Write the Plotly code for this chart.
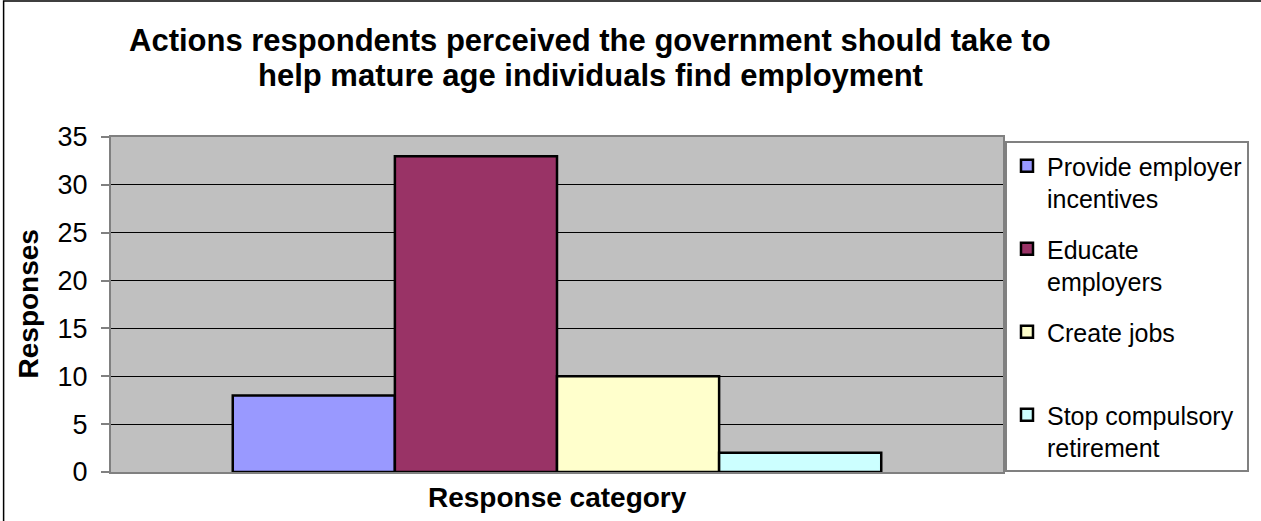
import plotly.graph_objects as go

# Survey responses: one group of four bars
category = ["Response category"]
series_names = [
    "Provide employer<br>incentives",
    "Educate<br>employers",
    "Create jobs<br>&nbsp;",
    "Stop compulsory<br>retirement",
]
series_values = [8, 33, 10, 2]
series_colors = ["#9999FF", "#993366", "#FFFFCC", "#CCFFFF"]

title_lines = [
    "Actions respondents perceived the government should take to",
    "help mature age individuals find employment",
]
y_ticks = [0, 5, 10, 15, 20, 25, 30, 35]

W, H = 1261, 521
L, R, T, B = 111, 1008, 137, 472  # plot area in pixels


def px_x(p):
    return (p - L) / (R - L)


def px_y(p):
    return (B - p) / (B - T)


fig = go.Figure()
for i, (name, val, col) in enumerate(zip(series_names, series_values, series_colors)):
    fig.add_trace(go.Bar(
        x=[0], y=[val], name=name,
        marker=dict(color=col, line=dict(color="black", width=2.5)),
        legendgroup=f"g{i}",
        hoverinfo="y",
    ))

font = "Liberation Sans, Arial, sans-serif"

annotations = [
    dict(text=f"<b>{title_lines[0]}</b>", x=px_x(593), y=px_y(40),
         xref="paper", yref="paper", xanchor="center", yanchor="middle",
         showarrow=False, font=dict(size=31, color="black", family=font)),
    dict(text=f"<b>{title_lines[1]}</b>", x=px_x(593), y=px_y(75),
         xref="paper", yref="paper", xanchor="center", yanchor="middle",
         showarrow=False, font=dict(size=31, color="black", family=font)),
    dict(text="<b>Responses</b>", x=px_x(28), y=px_y(304), textangle=-90,
         xref="paper", yref="paper", xanchor="center", yanchor="middle",
         showarrow=False, font=dict(size=28, color="black", family=font)),
    dict(text="<b>Response category</b>", x=px_x(560), y=px_y(498),
         xref="paper", yref="paper", xanchor="center", yanchor="middle",
         showarrow=False, font=dict(size=28, color="black", family=font)),
]

fig.update_layout(
    width=W, height=H,
    margin=dict(l=L, r=W - R, t=T, b=H - B, pad=0),
    paper_bgcolor="white",
    plot_bgcolor="#C0C0C0",
    barmode="group",
    bargap=0.273,
    bargroupgap=0,
    showlegend=True,
    legend=dict(
        x=px_x(1010), y=px_y(141), xanchor="left", yanchor="top",
        bgcolor="white", bordercolor="#808080", borderwidth=2,
        font=dict(size=25, color="black", family=font),
        valign="top", tracegroupgap=15, traceorder="grouped",
        itemclick=False, itemdoubleclick=False,
    ),
    annotations=annotations,
    shapes=[dict(type="rect", xref="paper", yref="paper",
                 x0=px_x(3), x1=px_x(1320), y0=px_y(1), y1=px_y(570),
                 line=dict(color="black", width=1.5), layer="above")],
)

fig.update_xaxes(
    range=[-0.5, 0.5], showticklabels=False, ticks="",
    showgrid=False, zeroline=False,
    showline=True, mirror=True, linecolor="#808080", linewidth=2,
)
fig.update_yaxes(
    range=[0, 35], tickvals=y_ticks, ticktext=[str(v) for v in y_ticks],
    showgrid=True, gridcolor="black", gridwidth=1, zeroline=False,
    ticks="outside", ticklen=8, tickcolor="#808080", tickwidth=1.5,
    ticklabelstandoff=8,
    tickfont=dict(size=27, color="black", family=font),
    showline=True, mirror=True, linecolor="#808080", linewidth=2,
)

fig.write_html("out.html")
